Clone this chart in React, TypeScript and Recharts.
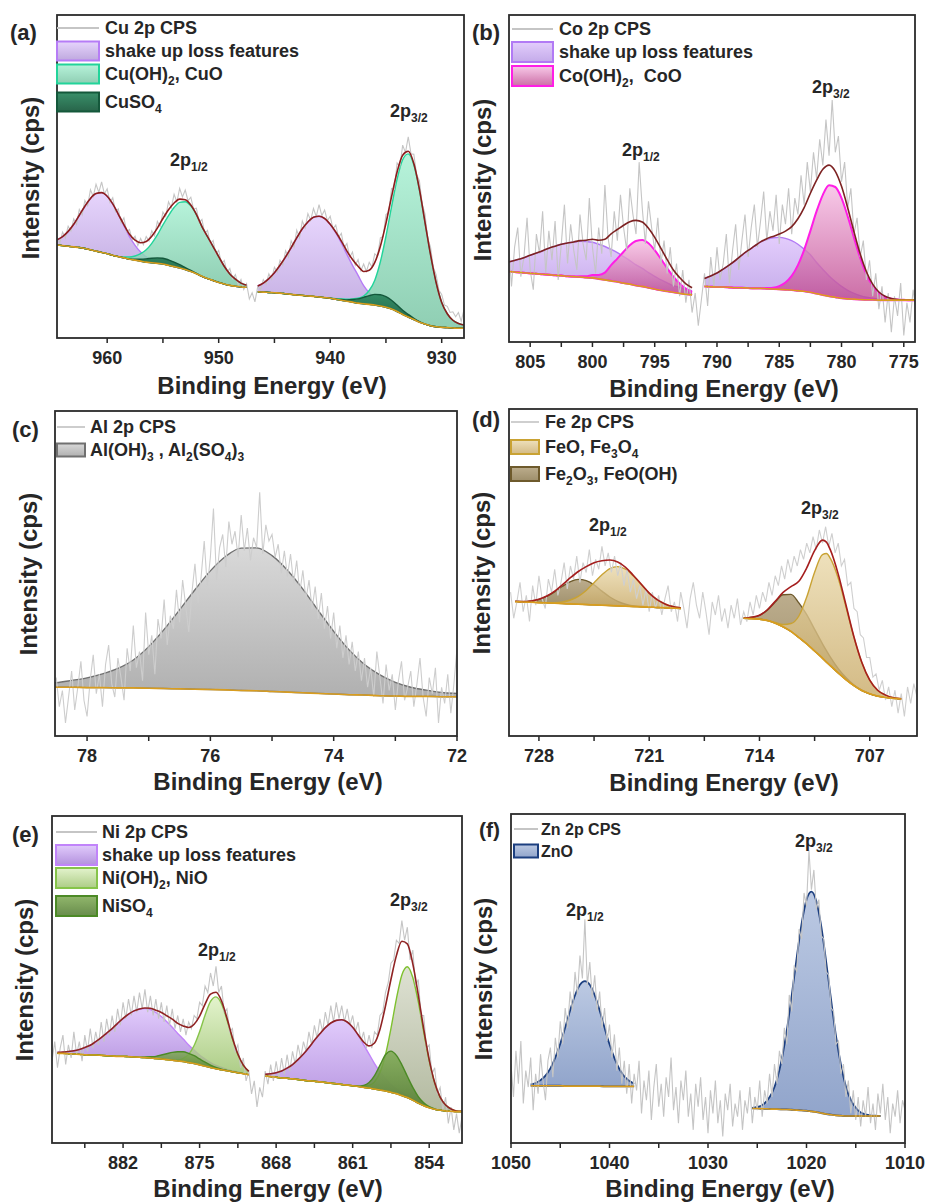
import React from "react";
import { ComposedChart, Line, Area, XAxis, YAxis } from "recharts";

const FONT = "'Liberation Sans', Arial, Helvetica, sans-serif";
const INK = "#262626";
const GREY = "#c5c5c5";
const BASE = "#d99d1e";

// ---------- (a) Cu 2p ----------
const A_RAW_FROM = 964.5;
const A_RAW_STEP = 0.25;
const A_RAW = [
  31.2, 29.5, 32.8, 31.0, 34.6, 33.1, 36.9, 35.2, 39.8, 38.1,
  42.6, 41.0, 45.9, 43.8, 47.6, 45.1, 48.3, 44.6, 46.2, 42.0,
  43.4, 39.1, 40.0, 35.6, 37.2, 32.9, 33.6, 30.4, 31.5, 28.6,
  30.8, 28.9, 31.4, 30.0, 33.2, 31.6, 36.1, 34.5, 39.0, 37.6,
  42.2, 40.3, 44.5, 42.1, 46.3, 43.7, 45.8, 42.5, 43.6, 39.9,
  40.2, 35.8, 36.7, 32.4, 33.3, 29.1, 30.2, 26.0, 27.1, 22.9,
  24.0, 20.4, 21.5, 18.3, 19.6, 16.4, 18.1, 15.0, 16.8, 12.1,
  14.0, 11.2, 15.9, 15.0, 18.1, 16.7, 19.9, 18.2, 21.9, 20.4,
  24.1, 22.6, 27.0, 25.1, 30.1, 28.2, 33.4, 31.0, 36.2, 34.1,
  38.5, 36.4, 40.1, 37.6, 41.3, 37.9, 39.6, 36.3, 37.7, 33.8,
  35.0, 31.2, 32.4, 27.9, 29.3, 25.0, 26.6, 22.5, 24.3, 20.8,
  22.9, 20.6, 23.4, 22.0, 26.1, 25.3, 31.0, 31.4, 38.2, 38.9,
  46.3, 46.0, 54.2, 53.1, 59.7, 57.4, 62.3, 57.0, 56.9, 50.6,
  48.7, 41.5, 38.4, 30.8, 28.1, 21.9, 19.6, 14.8, 13.5, 10.2,
  9.8, 7.9, 8.1, 6.6, 7.9, 5.2, 8.8,
];
const A_S1_E = [964.5, 964, 963.5, 963, 962.5, 962, 961.5, 961, 960.5, 960, 959.5, 959, 958.5, 958, 957.5, 957, 956.5, 956, 955.5, 955, 954.5, 954, 953.5, 953, 952.5, 952, 951.5, 951, 950.5, 950, 949.5, 949, 948.5, 948, 947.5];
const A_S1_BG = [28.8, 28.6, 28.4, 28.2, 28.0, 27.7, 27.3, 26.9, 26.5, 26.1, 25.6, 25.2, 24.8, 24.4, 24.1, 23.8, 23.5, 23.3, 23.1, 22.9, 22.5, 22.1, 21.7, 21.2, 20.6, 19.9, 19.1, 18.4, 17.8, 17.2, 16.7, 16.3, 16.0, 15.8, 15.7];
const A_S1_SHAKE = [1.6, 2.8, 4.6, 7.0, 10.0, 13.1, 15.9, 17.8, 18.5, 17.8, 15.9, 13.1, 10.0, 7.0, 4.6, 2.8, 1.6, 0.8, 0.4, 0.2, 0.1, 0, 0, 0, 0, 0, 0, 0, 0, 0, 0, 0, 0, 0, 0];
const A_S1_OH = [0, 0, 0, 0, 0, 0, 0, 0, 0, 0, 0, 0, 0.3, 0.7, 1.3, 2.3, 3.8, 6.0, 8.8, 12.1, 15.4, 18.3, 20.3, 21, 20.3, 18.3, 15.4, 13, 10.5, 8, 5.5, 3.5, 2.2, 1.2, 0.6];
const A_S1_SO4 = [0, 0, 0, 0, 0, 0, 0, 0, 0, 0, 0, 0, 0, 0, 0.3, 0.6, 1.0, 1.4, 1.7, 1.8, 1.7, 1.4, 1.0, 0.6, 0.3, 0.1, 0, 0, 0, 0, 0, 0, 0, 0, 0];
const A_S2_E = [946.5, 946, 945.5, 945, 944.5, 944, 943.5, 943, 942.5, 942, 941.5, 941, 940.5, 940, 939.5, 939, 938.5, 938, 937.5, 937, 936.5, 936, 935.5, 935, 934.5, 934, 933.5, 933, 932.5, 932, 931.5, 931, 930.5, 930, 929.5, 929, 928.5, 928];
const A_S2_BG = [14.3, 14.2, 14.1, 14.0, 13.9, 13.7, 13.5, 13.3, 13.2, 13.0, 12.9, 12.7, 12.5, 12.3, 12.0, 11.7, 11.4, 11.1, 10.8, 10.6, 10.4, 10.2, 9.9, 9.5, 9.0, 8.2, 7.3, 6.5, 5.7, 4.9, 4.3, 3.8, 3.5, 3.3, 3.2, 3.1, 3.0, 3.0];
const A_S2_SHAKE = [1.8, 2.8, 4.3, 6.2, 8.6, 11.4, 14.5, 17.7, 20.6, 22.9, 24.5, 25, 24.5, 22.9, 20.6, 17.7, 14.5, 11.4, 8.6, 5.6, 3.6, 2.2, 1.3, 0.7, 0.4, 0.2, 0.1, 0, 0, 0, 0, 0, 0, 0, 0, 0, 0, 0];
const A_S2_OH = [0, 0, 0, 0, 0, 0, 0, 0, 0, 0, 0, 0, 0, 0, 0.2, 0.4, 0.6, 1.0, 1.5, 2.4, 4.3, 7.7, 13.7, 22.0, 31.6, 41.0, 47.9, 50.5, 47.9, 41.0, 31.6, 22.0, 13.7, 7.7, 4.3, 2.4, 1.5, 1.0];
const A_S2_SO4 = [0, 0, 0, 0, 0, 0, 0, 0, 0, 0, 0, 0, 0, 0, 0, 0.2, 0.4, 0.8, 1.3, 2.0, 2.7, 3.3, 3.5, 3.3, 2.7, 2.0, 1.3, 0.8, 0.4, 0.2, 0, 0, 0, 0, 0, 0, 0, 0];

// ---------- (b) Co 2p ----------
const B_RAW_FROM = 806.75;
const B_RAW_STEP = 0.25;
const B_RAW = [
  31, 17, 29, 35, 20, 26, 38, 22, 16, 33,
  27, 40, 21, 34, 25, 37, 19, 30, 42, 24,
  36, 28, 22, 39, 30, 25, 44, 29, 21, 35,
  27, 48, 32, 26, 40, 31, 45, 35, 28, 47,
  39, 33, 55, 41, 30, 43, 35, 28, 38, 24,
  31, 21, 29, 17, 24, 14, 22, 12, 19, 9,
  15, 5, 13, 21, 11, 26, 17, 29, 19, 24,
  33, 18, 28, 36, 22, 31, 39, 26, 35, 42,
  29, 37, 46, 31, 40, 34, 45, 30, 42, 36,
  47, 33, 44, 39, 51, 42, 55, 46, 58, 50,
  62, 54, 68, 57, 74, 58, 63, 49, 55, 41,
  47, 33, 38, 26, 31, 19, 25, 14, 21, 10,
  17, 6, 15, 3, 14, 8, 18, 2, 12, 6,
  16, 9,
];
const B_S1_E = [807, 806.5, 806, 805.5, 805, 804.5, 804, 803.5, 803, 802.5, 802, 801.5, 801, 800.5, 800, 799.5, 799, 798.5, 798, 797.5, 797, 796.5, 796, 795.5, 795, 794.5, 794, 793.5, 793, 792.5, 792];
const B_S1_BG = [21.6, 21.5, 21.3, 21.2, 21.0, 20.9, 20.7, 20.6, 20.4, 20.3, 20.1, 20.0, 19.9, 19.7, 19.6, 19.3, 19.0, 18.7, 18.4, 18.0, 17.7, 17.3, 17.0, 16.6, 16.2, 15.8, 15.5, 15.2, 14.9, 14.6, 14.4];
const B_S1_SHAKE = [2.6, 3.2, 3.9, 4.6, 5.5, 6.3, 7.2, 8.1, 8.9, 9.6, 10.2, 10.6, 10.9, 11, 10.9, 10.6, 10.2, 9.6, 8.9, 8.1, 7.2, 6.3, 5.5, 4.6, 3.9, 3.2, 2.6, 2.0, 1.8, 1.5, 1.3];
const B_S1_OH = [0, 0, 0, 0, 0, 0, 0, 0, 0, 0, 0, 0, 0.2, 0.4, 0.9, 1.2, 2.2, 4.8, 7.1, 9.6, 11.9, 13.6, 14.2, 13.6, 11.9, 9.6, 7.1, 4.8, 3.0, 1.7, 0.9];
const B_S2_E = [791, 790.5, 790, 789.5, 789, 788.5, 788, 787.5, 787, 786.5, 786, 785.5, 785, 784.5, 784, 783.5, 783, 782.5, 782, 781.5, 781, 780.5, 780, 779.5, 779, 778.5, 778, 777.5, 777, 776.5, 776, 775.5, 775, 774.5, 774];
const B_S2_BG = [17.0, 16.9, 16.8, 16.8, 16.7, 16.6, 16.6, 16.5, 16.4, 16.4, 16.3, 16.2, 16.1, 16.0, 15.9, 15.7, 15.5, 15.2, 14.8, 14.4, 14.0, 13.7, 13.4, 13.2, 13.1, 13.0, 12.9, 12.9, 12.8, 12.8, 12.8, 12.8, 12.8, 12.8, 12.8];
const B_S2_SHAKE = [2.4, 3.3, 4.3, 5.5, 6.9, 8.4, 10.0, 11.5, 12.9, 14.2, 15.1, 15.7, 15.9, 15.7, 15.1, 14.2, 12.9, 11.5, 9.5, 7.8, 6.2, 4.8, 3.6, 2.6, 1.8, 1.2, 0.8, 0.5, 0.3, 0.2, 0.1, 0, 0, 0, 0];
const B_S2_OH = [0, 0, 0, 0, 0, 0, 0, 0, 0, 0, 0.2, 0.4, 1.0, 2.2, 4.3, 7.8, 12.7, 18.8, 25.2, 30.6, 33.9, 33.7, 30.6, 25.2, 18.8, 12.7, 7.8, 4.3, 2.2, 1.0, 0.4, 0.2, 0.1, 0, 0];

// ---------- (c) Al 2p ----------
const C_RAW_FROM = 78.5;
const C_RAW_STEP = 0.05;
const C_RAW = [
  18, 9, 14, 4, 12, 20, 8, 15, 23, 11,
  6, 17, 25, 13, 19, 9, 22, 28, 16, 12,
  24, 18, 11, 27, 20, 34, 21, 26, 17, 38,
  25, 31, 19, 36, 30, 42, 28, 37, 33, 45,
  35, 48, 40, 32, 44, 53, 41, 49, 60, 46,
  55, 70, 48, 58, 62, 52, 66, 59, 63, 55,
  68, 57, 64, 54, 61, 58, 75, 56, 65, 60,
  62, 55, 59, 50, 57, 49, 56, 47, 54, 44,
  51, 42, 48, 39, 46, 36, 44, 33, 40, 30,
  38, 27, 34, 24, 31, 22, 29, 20, 26, 17,
  24, 15, 21, 12, 26, 18, 10, 22, 14, 19,
  8, 17, 23, 11, 15, 20, 9, 16, 24, 12,
  6, 18, 13, 21, 4, 15, 10, 19, 7, 16,
  27,
];
const C_E = [78.75, 78.5, 78.25, 78, 77.75, 77.5, 77.25, 77, 76.75, 76.5, 76.25, 76, 75.75, 75.5, 75.25, 75, 74.75, 74.5, 74.25, 74, 73.75, 73.5, 73.25, 73, 72.75, 72.5, 72.25, 72, 71.75];
const C_BG = [15.1, 15.0, 15.0, 14.9, 14.9, 14.8, 14.8, 14.7, 14.6, 14.5, 14.4, 14.3, 14.2, 14.0, 13.9, 13.7, 13.5, 13.3, 13.1, 12.9, 12.7, 12.6, 12.4, 12.3, 12.2, 12.2, 12.1, 12.1, 12.1];
const C_AL = [1.0, 1.4, 2.1, 3.0, 4.2, 6.0, 8.6, 12.8, 18.2, 24.3, 30.6, 36.5, 41.1, 43.8, 44.0, 41.8, 37.5, 31.9, 25.5, 19.3, 13.8, 9.4, 6.4, 4.2, 2.8, 1.9, 1.3, 1.0, 0.8];

// ---------- (d) Fe 2p ----------
const D_RAW_FROM = 729.8;
const D_RAW_STEP = 0.2;
const D_RAW = [
  44, 36, 41, 47, 38, 43, 35, 46, 40, 49,
  42, 39, 48, 44, 51, 43, 47, 53, 45, 52,
  48, 55, 47, 53, 50, 57, 49, 54, 51, 58,
  52, 56, 50, 55, 49, 53, 46, 51, 44, 48,
  42, 46, 40, 45, 38, 44, 39, 43, 37, 42,
  46, 38, 41, 35, 44, 39, 33, 42, 47, 40,
  36, 44, 38, 31, 41, 37, 43, 35, 39, 33,
  40, 36, 42, 34, 38, 35, 41, 37, 43, 39,
  44, 41, 47, 43, 49, 46, 52, 48, 54, 50,
  55, 52, 57, 54, 59, 56, 61, 57, 63, 59,
  64, 58, 62, 56, 59, 52, 54, 46, 47, 39,
  38, 31, 30, 24, 24, 18, 19, 14, 17, 11,
  15, 9, 14, 7, 13, 6, 15, 10, 16, 12,
];
const D_S1_E = [729.5, 729, 728.5, 728, 727.5, 727, 726.5, 726, 725.5, 725, 724.5, 724, 723.5, 723, 722.5, 722, 721.5, 721, 720.5, 720, 719.5, 719];
const D_S1_BG = [41.1, 41.0, 40.9, 40.8, 40.7, 40.6, 40.5, 40.4, 40.3, 40.2, 40.1, 40.0, 39.9, 39.8, 39.7, 39.6, 39.5, 39.4, 39.3, 39.2, 39.1, 39.0];
const D_S1_FEO = [0, 0, 0, 0, 0.1, 0.2, 0.5, 1.2, 2.4, 4.3, 6.8, 9.3, 11.3, 12, 11.3, 9.3, 6.8, 4.3, 2.4, 1.2, 0.5, 0.2];
const D_S1_FE3 = [0.1, 0.1, 0.4, 1.0, 2.0, 3.5, 5.3, 6.8, 7.6, 7.3, 6.1, 4.3, 2.6, 1.4, 0.6, 0.2, 0.1, 0, 0, 0, 0, 0];
const D_S2_E = [715, 714.5, 714, 713.5, 713, 712.5, 712, 711.5, 711, 710.5, 710, 709.75, 709.5, 709, 708.5, 708, 707.5, 707, 706.5, 706, 705.5, 705];
const D_S2_BG = [36.0, 35.9, 35.7, 35.3, 34.5, 33.4, 32.0, 30.1, 28.2, 26.0, 23.8, 22.6, 21.5, 19.3, 17.2, 15.4, 13.9, 12.9, 12.2, 11.8, 11.5, 11.3];
const D_S2_FEO = [0, 0, 0, 0.1, 0.2, 0.7, 2.4, 6.6, 14.3, 24.1, 31.7, 33.2, 32.8, 28.9, 22.1, 14.7, 8.5, 4.2, 1.8, 0.7, 0.2, 0.1];
const D_S2_FE3 = [0.1, 0.4, 1.2, 3.2, 6.5, 9.8, 11.3, 10.6, 8.9, 6.6, 4.4, 3.5, 2.6, 1.3, 0.6, 0.2, 0.1, 0, 0, 0, 0, 0];

// ---------- (e) Ni 2p ----------
const E_RAW_FROM = 888.5;
const E_RAW_STEP = 0.25;
const E_RAW = [
  25, 31, 23, 29, 33, 24, 30, 26, 34, 27,
  31, 25, 33, 28, 35, 29, 34, 30, 37, 31,
  38, 33, 39, 34, 41, 36, 43, 38, 44, 39,
  45, 40, 46, 41, 47, 40, 45, 39, 44, 38,
  43, 37, 42, 36, 41, 35, 39, 34, 38, 33,
  37, 35, 39, 38, 43, 42, 48, 46, 52, 48,
  54, 46, 48, 40, 41, 34, 35, 28, 30, 23,
  26, 19, 22, 15, 19, 11, 17, 14, 22, 18,
  24, 19, 25, 20, 26, 21, 27, 22, 28, 24,
  30, 26, 31, 28, 34, 30, 36, 32, 38, 34,
  40, 36, 42, 37, 43, 38, 42, 37, 41, 36,
  39, 34, 37, 31, 34, 29, 33, 29, 34, 33,
  39, 40, 46, 49, 55, 56, 62, 61, 68, 62,
  66, 56, 59, 48, 50, 39, 39, 29, 30, 21,
  23, 15, 17, 10, 14, 6, 11, 4, 9, 3,
  8,
];
const E_S1_E = [888, 887.5, 887, 886.5, 886, 885.5, 885, 884.5, 884, 883.5, 883, 882.5, 882, 881.5, 881, 880.5, 880, 879.5, 879, 878.5, 878, 877.5, 877, 876.5, 876, 875.5, 875, 874.5, 874, 873.5, 873, 872.5, 872, 871.5, 871, 870.5];
const E_S1_BG = [27.4, 27.4, 27.3, 27.2, 27.1, 27.0, 26.9, 26.9, 26.8, 26.7, 26.6, 26.5, 26.5, 26.4, 26.3, 26.2, 26.1, 26.0, 25.8, 25.7, 25.5, 25.3, 25.1, 24.9, 24.6, 24.3, 23.9, 23.5, 23.1, 22.7, 22.4, 22.1, 21.8, 21.5, 21.2, 20.9];
const E_S1_SHAKE = [0.3, 0.4, 0.7, 1.0, 1.5, 2.2, 3.0, 4.1, 5.4, 6.9, 8.4, 10.1, 11.6, 13.0, 14.1, 14.8, 15, 14.8, 14.1, 13.0, 11.6, 10.1, 8.4, 6.9, 5.4, 4.1, 3.0, 2.2, 1.5, 1.0, 0.7, 0.4, 0.3, 0.2, 0.1, 0];
const E_S1_OH = [0, 0, 0, 0, 0, 0, 0, 0, 0, 0, 0, 0, 0, 0, 0, 0, 0, 0, 0, 0, 0, 0.1, 0.3, 1.0, 2.5, 5.5, 10.1, 15.6, 20.2, 22, 20.2, 15.6, 10.1, 5.5, 2.5, 1.0];
const E_S1_SO4 = [0, 0, 0, 0, 0, 0, 0, 0, 0, 0, 0, 0, 0, 0, 0, 0, 0.2, 0.4, 0.7, 1.2, 1.8, 2.4, 2.8, 3.0, 2.8, 2.4, 1.8, 1.2, 0.7, 0.4, 0.2, 0.1, 0, 0, 0, 0];
const E_S2_E = [869, 868.5, 868, 867.5, 867, 866.5, 866, 865.5, 865, 864.5, 864, 863.5, 863, 862.5, 862, 861.5, 861, 860.5, 860, 859.5, 859, 858.5, 858, 857.5, 857, 856.5, 856, 855.5, 855, 854.5, 854, 853.5, 853, 852.5, 852, 851.5, 851];
const E_S2_BG = [20.5, 20.3, 20.1, 19.9, 19.8, 19.6, 19.4, 19.2, 19.0, 18.9, 18.7, 18.5, 18.3, 18.1, 17.9, 17.7, 17.5, 17.3, 17.0, 16.8, 16.5, 16.2, 15.9, 15.5, 15.1, 14.5, 13.9, 13.1, 12.2, 11.4, 10.8, 10.3, 10.0, 9.8, 9.7, 9.6, 9.6];
const E_S2_SHAKE = [0.5, 0.9, 1.4, 2.1, 3.1, 4.4, 6.1, 8.0, 10.2, 12.5, 14.7, 16.8, 18.4, 19.4, 19.8, 19.3, 17.9, 15.7, 13.1, 10.4, 7.8, 5.6, 3.8, 2.4, 1.5, 0.9, 0.5, 0.3, 0.1, 0, 0, 0, 0, 0, 0, 0, 0];
const E_S2_OH = [0, 0, 0, 0, 0, 0, 0, 0, 0, 0, 0, 0, 0, 0, 0, 0, 0, 0, 0.2, 0.8, 2.2, 5.4, 11.1, 19.5, 29.0, 36.9, 40, 37.5, 31.0, 22.5, 14.4, 8.1, 4.0, 1.8, 0.7, 0.2, 0.1];
const E_S2_SO4 = [0, 0, 0, 0, 0, 0, 0, 0, 0, 0, 0, 0, 0, 0, 0, 0, 0, 0.1, 0.6, 1.7, 4.1, 7.6, 11.1, 12.6, 11.7, 9.4, 6.5, 3.9, 2.0, 0.9, 0.3, 0.1, 0, 0, 0, 0, 0];

// ---------- (f) Zn 2p ----------
const F_RAW_FROM = 1050;
const F_RAW_STEP = 0.25;
const F_RAW = [
  24, 14, 28, 18, 31, 12, 22, 17, 26, 10,
  21, 15, 27, 19, 13, 25, 29, 20, 32, 26,
  37, 30, 41, 35, 46, 40, 52, 45, 57, 50,
  68, 48, 55, 44, 51, 40, 46, 35, 41, 31,
  36, 26, 33, 22, 29, 18, 25, 15, 24, 12,
  21, 16, 25, 9, 19, 13, 22, 7, 17, 24,
  11, 18, 8, 20, 14, 26, 10, 17, 6, 19,
  13, 22, 8, 15, 4, 18, 11, 20, 7, 14,
  3, 16, 9, 19, 6, 13, 2, 15, 10, 18,
  5, 12, 8, 16, 4, 13, 9, 17, 6, 14,
  10, 19, 8, 16, 12, 21, 14, 24, 18, 28,
  24, 35, 30, 45, 40, 54, 52, 65, 62, 76,
  72, 89, 77, 83, 71, 74, 63, 62, 52, 51,
  41, 40, 30, 31, 21, 24, 14, 19, 9, 16,
  7, 14, 5, 13, 8, 17, 6, 12, 4, 15,
  9, 18, 7, 14, 3, 12, 8, 16, 6, 13,
  10,
];
const F_S1_E = [1048, 1047.5, 1047, 1046.5, 1046, 1045.5, 1045, 1044.5, 1044, 1043.5, 1043, 1042.5, 1042, 1041.5, 1041, 1040.5, 1040, 1039.5, 1039, 1038.5, 1038, 1037.5];
const F_S1_BG = [17.4, 17.4, 17.4, 17.4, 17.4, 17.4, 17.4, 17.3, 17.3, 17.3, 17.3, 17.3, 17.3, 17.3, 17.3, 17.2, 17.2, 17.2, 17.2, 17.2, 17.2, 17.2];
const F_S1_ZNO = [0.4, 0.8, 1.7, 3.1, 5.3, 8.6, 12.8, 17.8, 23.0, 27.6, 30.8, 31.9, 30.8, 27.6, 23.0, 17.8, 12.8, 8.6, 5.3, 3.1, 1.7, 0.8];
const F_S2_E = [1025.5, 1025, 1024.5, 1024, 1023.5, 1023, 1022.5, 1022, 1021.5, 1021, 1020.5, 1020, 1019.5, 1019, 1018.5, 1018, 1017.5, 1017, 1016.5, 1016, 1015.5, 1015, 1014.5, 1014, 1013.5, 1013, 1012.5];
const F_S2_BG = [10.5, 10.5, 10.4, 10.4, 10.3, 10.3, 10.2, 10.2, 10.1, 10.0, 9.9, 9.8, 9.6, 9.4, 9.1, 8.8, 8.6, 8.4, 8.3, 8.2, 8.2, 8.2, 8.2, 8.2, 8.2, 8.2, 8.2];
const F_S2_ZNO = [0.2, 0.5, 1.1, 2.5, 4.9, 9.0, 15.4, 24.0, 34.8, 46.2, 56.7, 64.1, 66.8, 64.1, 56.7, 46.2, 34.8, 24.0, 15.4, 9.0, 4.9, 2.5, 1.1, 0.5, 0.2, 0.1, 0];

// ---------- helpers ----------
function fitRows(e: number[], bg: number[], parts: Record<string, number[]>) {
  return e.map((x, i) => {
    const row: any = { e: x, bg: bg[i] };
    let top = bg[i];
    Object.keys(parts).forEach((k) => {
      const v = parts[k][i] ?? 0;
      row[k] = [bg[i], bg[i] + v];
      top += v;
    });
    row.env = Math.round(top * 100) / 100;
    return row;
  });
}

function scanRows(from: number, step: number, vals: number[]) {
  return vals.map((v, i) => ({ e: Math.round((from - i * step) * 1000) / 1000, v }));
}

type Part = { key: string; gid: string; stroke: string; top: string; bottom: string; op: number; sw?: number };

const pa: Record<string, Part> = {
  cuShake: { key: "shake", gid: "cu-shake", stroke: "#b67cf6", top: "#e2cdfc", bottom: "#b399d8", op: 0.85 },
  cuoh: { key: "oh", gid: "cu-oh", stroke: "#22d49a", top: "#aaf1d4", bottom: "#7cc6a6", op: 0.85 },
  cuso4: { key: "so4", gid: "cu-so4", stroke: "#14583b", top: "#2f8a62", bottom: "#1c5c40", op: 0.95 },
  coShake: { key: "shake", gid: "co-shake", stroke: "#b27af5", top: "#dcc0fb", bottom: "#b596e4", op: 0.8 },
  cooh: { key: "oh", gid: "co-oh", stroke: "#ff1ee6", top: "#f6bde3", bottom: "#bf4a90", op: 0.8, sw: 2 },
  al: { key: "al", gid: "al", stroke: "#707070", top: "#d2d2d2", bottom: "#a2a2a2", op: 0.85 },
  feo: { key: "feo", gid: "fe-feo", stroke: "#c9a233", top: "#ead9ab", bottom: "#c8a966", op: 0.8 },
  fe3: { key: "fe3", gid: "fe-fe3", stroke: "#6e5a2c", top: "#ab9870", bottom: "#857245", op: 0.8 },
  niShake: { key: "shake", gid: "ni-shake", stroke: "#c184fa", top: "#dcc2fb", bottom: "#a67ed8", op: 0.85 },
  nioh: { key: "oh", gid: "ni-oh", stroke: "#86c44a", top: "#dcf0c0", bottom: "#98c068", op: 0.8 },
  nioh3: { key: "oh", gid: "ni-oh3", stroke: "#7ec12e", top: "#d8dccb", bottom: "#a6ae90", op: 0.85 },
  niso4: { key: "so4", gid: "ni-so4", stroke: "#4c8a26", top: "#7eaa52", bottom: "#4d782c", op: 0.85 },
  zno: { key: "zno", gid: "zn-o", stroke: "#1c3f80", top: "#b0c0de", bottom: "#7e95c2", op: 0.85, sw: 1.8 },
};

type Row = { y: number; part?: Part; text: string[] };
type Seg = { rows: any[]; parts: Part[] };
type Spec = {
  id: string;
  box: { x: number; y: number; w: number; h: number };
  domain: [number, number];
  major: number[];
  minor: number[];
  scan: { e: number; v: number }[];
  raw: string;
  segs: Seg[];
  env?: string;
  letter: { x: number; y: number; size: number };
  xt: { cx: number; y: number };
  yt: { x: number; cy: number };
  legend: { x: number; w: number; h: number; tx: number; size: number; rows: Row[] };
  notes: { x: number; y: number; sub: string }[];
};

const PANELS: Spec[] = [
  {
    id: "a",
    box: { x: 57, y: 15, w: 407, h: 323 },
    domain: [928, 964.5],
    major: [930, 940, 950, 960],
    minor: [935, 945, 955],
    scan: scanRows(A_RAW_FROM, A_RAW_STEP, A_RAW),
    raw: GREY,
    segs: [
      { rows: fitRows(A_S1_E, A_S1_BG, { shake: A_S1_SHAKE, oh: A_S1_OH, so4: A_S1_SO4 }), parts: [pa.cuShake, pa.cuoh, pa.cuso4] },
      { rows: fitRows(A_S2_E, A_S2_BG, { shake: A_S2_SHAKE, oh: A_S2_OH, so4: A_S2_SO4 }), parts: [pa.cuShake, pa.cuoh, pa.cuso4] },
    ],
    env: "#8c1d1d",
    letter: { x: 10, y: 40, size: 22 },
    xt: { cx: 272, y: 394 },
    yt: { x: 39, cy: 178 },
    legend: {
      x: 57, w: 42, h: 19, tx: 105, size: 18,
      rows: [
        { y: 28, text: ["Cu 2p CPS"] },
        { y: 51, part: pa.cuShake, text: ["shake up loss features"] },
        { y: 74, part: pa.cuoh, text: ["Cu(OH)", "_2", ", CuO"] },
        { y: 102, part: pa.cuso4, text: ["CuSO", "_4"] },
      ],
    },
    notes: [{ x: 170, y: 166, sub: "1/2" }, { x: 390, y: 117, sub: "3/2" }],
  },
  {
    id: "b",
    box: { x: 509, y: 15, w: 406, h: 327 },
    domain: [774.1, 806.7],
    major: [775, 780, 785, 790, 795, 800, 805],
    minor: [777.5, 782.5, 787.5, 792.5, 797.5, 802.5],
    scan: scanRows(B_RAW_FROM, B_RAW_STEP, B_RAW),
    raw: GREY,
    segs: [
      { rows: fitRows(B_S1_E, B_S1_BG, { shake: B_S1_SHAKE, oh: B_S1_OH }), parts: [pa.coShake, pa.cooh] },
      { rows: fitRows(B_S2_E, B_S2_BG, { shake: B_S2_SHAKE, oh: B_S2_OH }), parts: [pa.coShake, pa.cooh] },
    ],
    env: "#7d2222",
    letter: { x: 472, y: 40, size: 22 },
    xt: { cx: 724, y: 397 },
    yt: { x: 491, cy: 180 },
    legend: {
      x: 512, w: 41, h: 20, tx: 559, size: 18,
      rows: [
        { y: 29, text: ["Co 2p CPS"] },
        { y: 52, part: pa.coShake, text: ["shake up loss features"] },
        { y: 76, part: pa.cooh, text: ["Co(OH)", "_2", ",  CoO"] },
      ],
    },
    notes: [{ x: 622, y: 156, sub: "1/2" }, { x: 812, y: 93, sub: "3/2" }],
  },
  {
    id: "c",
    box: { x: 55, y: 411, w: 402, h: 325 },
    domain: [72, 78.52],
    major: [72, 74, 76, 78],
    minor: [73, 75, 77],
    scan: scanRows(C_RAW_FROM, C_RAW_STEP, C_RAW),
    raw: "#cdcdcd",
    segs: [{ rows: fitRows(C_E, C_BG, { al: C_AL }), parts: [pa.al] }],
    letter: { x: 12, y: 437, size: 22 },
    xt: { cx: 268, y: 790 },
    yt: { x: 37, cy: 574 },
    legend: {
      x: 57, w: 28, h: 13, tx: 90, size: 18,
      rows: [
        { y: 427, text: ["Al 2p CPS"] },
        { y: 450, part: pa.al, text: ["Al(OH)", "_3", " , Al", "_2", "(SO", "_4", ")", "_3"] },
      ],
    },
    notes: [],
  },
  {
    id: "d",
    box: { x: 509, y: 409, w: 408, h: 327 },
    domain: [704, 729.9],
    major: [707, 714, 721, 728],
    minor: [710.5, 717.5, 724.5],
    scan: scanRows(D_RAW_FROM, D_RAW_STEP, D_RAW),
    raw: "#cfcfcf",
    segs: [
      { rows: fitRows(D_S1_E, D_S1_BG, { fe3: D_S1_FE3, feo: D_S1_FEO }), parts: [pa.fe3, pa.feo] },
      { rows: fitRows(D_S2_E, D_S2_BG, { fe3: D_S2_FE3, feo: D_S2_FEO }), parts: [pa.fe3, pa.feo] },
    ],
    env: "#a51e1e",
    letter: { x: 472, y: 427, size: 22 },
    xt: { cx: 724, y: 791 },
    yt: { x: 490, cy: 573 },
    legend: {
      x: 511, w: 28, h: 14, tx: 545, size: 18,
      rows: [
        { y: 422, text: ["Fe 2p CPS"] },
        { y: 447, part: pa.feo, text: ["FeO, Fe", "_3", "O", "_4"] },
        { y: 474, part: pa.fe3, text: ["Fe", "_2", "O", "_3", ", FeO(OH)"] },
      ],
    },
    notes: [{ x: 589, y: 531, sub: "1/2" }, { x: 801, y: 514, sub: "3/2" }],
  },
  {
    id: "e",
    box: { x: 52, y: 816, w: 410, h: 327 },
    domain: [851, 888.5],
    major: [854, 861, 868, 875, 882],
    minor: [857.5, 864.5, 871.5, 878.5, 885.5],
    scan: scanRows(E_RAW_FROM, E_RAW_STEP, E_RAW),
    raw: GREY,
    segs: [
      { rows: fitRows(E_S1_E, E_S1_BG, { shake: E_S1_SHAKE, oh: E_S1_OH, so4: E_S1_SO4 }), parts: [pa.niShake, pa.nioh, pa.niso4] },
      { rows: fitRows(E_S2_E, E_S2_BG, { shake: E_S2_SHAKE, oh: E_S2_OH, so4: E_S2_SO4 }), parts: [pa.niShake, pa.nioh3, pa.niso4] },
    ],
    env: "#8f2323",
    letter: { x: 12, y: 842, size: 22 },
    xt: { cx: 268, y: 1197 },
    yt: { x: 33, cy: 980 },
    legend: {
      x: 56, w: 41, h: 20, tx: 102, size: 18,
      rows: [
        { y: 832, text: ["Ni 2p CPS"] },
        { y: 855, part: pa.niShake, text: ["shake up loss features"] },
        { y: 878, part: pa.nioh, text: ["Ni(OH)", "_2", ", NiO"] },
        { y: 906, part: pa.niso4, text: ["NiSO", "_4"] },
      ],
    },
    notes: [{ x: 198, y: 956, sub: "1/2" }, { x: 390, y: 906, sub: "3/2" }],
  },
  {
    id: "f",
    box: { x: 511, y: 814, w: 394, h: 329 },
    domain: [1010, 1050],
    major: [1010, 1020, 1030, 1040, 1050],
    minor: [1015, 1025, 1035, 1045],
    scan: scanRows(F_RAW_FROM, F_RAW_STEP, F_RAW),
    raw: GREY,
    segs: [
      { rows: fitRows(F_S1_E, F_S1_BG, { zno: F_S1_ZNO }), parts: [pa.zno] },
      { rows: fitRows(F_S2_E, F_S2_BG, { zno: F_S2_ZNO }), parts: [pa.zno] },
    ],
    letter: { x: 479, y: 837, size: 21 },
    xt: { cx: 720, y: 1197 },
    yt: { x: 492, cy: 979 },
    legend: {
      x: 514, w: 24, h: 13, tx: 541, size: 16,
      rows: [
        { y: 829, text: ["Zn 2p CPS"] },
        { y: 851, part: pa.zno, text: ["ZnO"] },
      ],
    },
    notes: [{ x: 566, y: 916, sub: "1/2" }, { x: 795, y: 847, sub: "3/2" }],
  },
];

const M = { top: 10, right: 30, bottom: 0, left: 30 };
const AXIS_H = 40;

function Chem({ bits, size }: { bits: string[]; size: number }) {
  const sub = Math.round(size * 0.68);
  const shift = Math.round(size * 0.3);
  let low = false;
  return (
    <>
      {bits.map((b, i) => {
        const isSub = b.startsWith("_");
        let dy = 0;
        if (isSub && !low) { dy = shift; low = true; }
        else if (!isSub && low) { dy = -shift; low = false; }
        return (
          <tspan key={i} dy={dy} fontSize={isSub ? sub : size}>
            {isSub ? b.slice(1) : b}
          </tspan>
        );
      })}
    </>
  );
}

const tickFor = (major: number[]) => (props: any) => {
  const { x, y, payload } = props;
  if (!major.includes(payload.value)) return <g />;
  return (
    <text x={x} y={y + 21} textAnchor="middle" fontFamily={FONT} fontWeight={700} fontSize={18} fill={INK}>
      {payload.value}
    </text>
  );
};

function Panel({ p }: { p: Spec }) {
  const { box } = p;
  return (
    <div style={{ position: "absolute", left: box.x - M.left, top: box.y - M.top }}>
      <ComposedChart width={box.w + M.left + M.right} height={box.h + M.top + AXIS_H} margin={M}>
        <XAxis
          type="number"
          dataKey="e"
          domain={p.domain}
          reversed
          allowDataOverflow
          ticks={[...p.major, ...p.minor].sort((a, b) => a - b)}
          interval={0}
          tickSize={5}
          tickMargin={0}
          height={AXIS_H}
          axisLine={false}
          tickLine={{ stroke: INK, strokeWidth: 1.5 }}
          tick={tickFor(p.major)}
        />
        <YAxis type="number" domain={[0, 100]} hide allowDataOverflow />
        <Line data={p.scan} dataKey="v" type="linear" stroke={p.raw} strokeWidth={1.1}
          dot={false} activeDot={false} isAnimationActive={false} />
        {p.segs.flatMap((seg, si) =>
          seg.parts.map((part) => (
            <Area key={`${si}-${part.key}`} data={seg.rows} dataKey={part.key} type="monotone"
              stroke={part.stroke} strokeWidth={part.sw ?? 1.4}
              fill={`url(#g-${part.gid})`} fillOpacity={part.op}
              dot={false} activeDot={false} isAnimationActive={false} />
          ))
        )}
        {p.env && p.segs.map((seg, si) => (
          <Line key={`env-${si}`} data={seg.rows} dataKey="env" type="monotone" stroke={p.env}
            strokeWidth={1.6} dot={false} activeDot={false} isAnimationActive={false} />
        ))}
        {p.segs.map((seg, si) => (
          <Line key={`bg-${si}`} data={seg.rows} dataKey="bg" type="monotone" stroke={BASE}
            strokeWidth={1.6} dot={false} activeDot={false} isAnimationActive={false} />
        ))}
      </ComposedChart>
    </div>
  );
}

function Gradients() {
  const all = Object.values(pa);
  return (
    <svg width={0} height={0} style={{ position: "absolute" }}>
      <defs>
        {all.map((part) => (
          <linearGradient key={part.gid} id={`g-${part.gid}`} x1="0" y1="0" x2="0" y2="1">
            <stop offset="0%" stopColor={part.top} />
            <stop offset="100%" stopColor={part.bottom} />
          </linearGradient>
        ))}
      </defs>
    </svg>
  );
}

function Overlay() {
  const txt = { fontFamily: FONT, fontWeight: 700, fill: INK } as const;
  return (
    <svg width={925} height={1204} style={{ position: "absolute", left: 0, top: 0, pointerEvents: "none" }}>
      {PANELS.map((p) => {
        const L = p.legend;
        return (
          <g key={p.id}>
            <rect x={p.box.x} y={p.box.y} width={p.box.w} height={p.box.h} fill="none" stroke="#2b2b2b" strokeWidth={1.8} />
            <text x={p.letter.x} y={p.letter.y} fontSize={p.letter.size} {...txt}>({p.id})</text>
            <text x={p.xt.cx} y={p.xt.y} fontSize={24} textAnchor="middle" {...txt}>Binding Energy (eV)</text>
            <text x={p.yt.x} y={p.yt.cy} fontSize={24} textAnchor="middle" transform={`rotate(-90 ${p.yt.x} ${p.yt.cy})`} {...txt}>
              Intensity (cps)
            </text>
            {L.rows.map((r, i) => (
              <g key={i}>
                {r.part ? (
                  <rect x={L.x} y={r.y - L.h / 2} width={L.w} height={L.h}
                    fill={`url(#g-${r.part.gid})`} fillOpacity={r.part.op}
                    stroke={r.part.stroke} strokeWidth={2} />
                ) : (
                  <line x1={L.x} x2={L.x + L.w} y1={r.y} y2={r.y} stroke={p.raw} strokeWidth={2} />
                )}
                <text x={L.tx} y={r.y + L.size * 0.36} fontSize={L.size} style={{ whiteSpace: "pre" }} {...txt}>
                  <Chem bits={r.text} size={L.size} />
                </text>
              </g>
            ))}
            {p.notes.map((n, i) => (
              <text key={i} x={n.x} y={n.y} fontSize={18} {...txt}>
                <Chem bits={["2p", "_" + n.sub]} size={18} />
              </text>
            ))}
          </g>
        );
      })}
    </svg>
  );
}

export default function App() {
  return (
    <div style={{ position: "absolute", left: 0, top: 0, width: 925, height: 1204, background: "#fff", overflow: "hidden" }}>
      <Gradients />
      {PANELS.map((p) => (
        <Panel key={p.id} p={p} />
      ))}
      <Overlay />
    </div>
  );
}
